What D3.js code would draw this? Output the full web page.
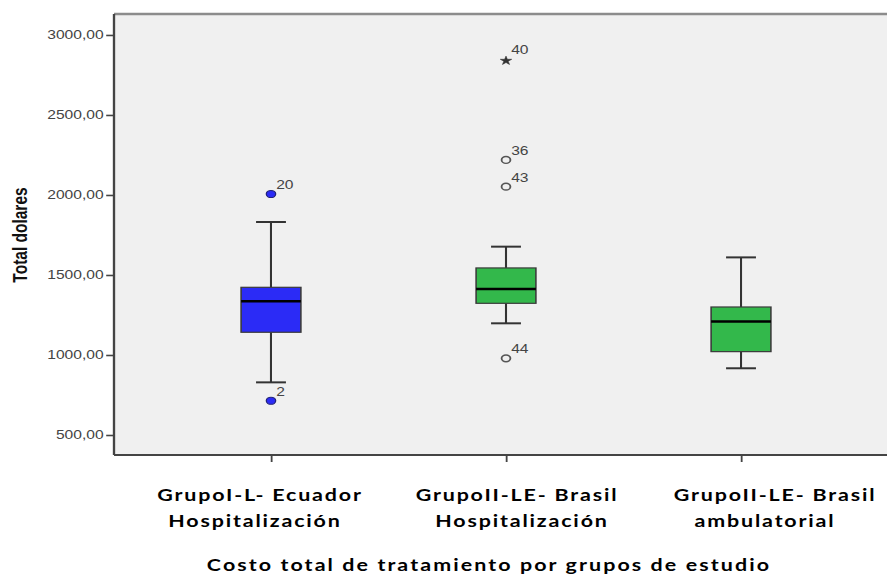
<!DOCTYPE html>
<html>
<head>
<meta charset="utf-8">
<script src="https://cdn.jsdelivr.net/npm/d3@7"></script>
<style>
  html, body { margin: 0; padding: 0; background: #ffffff; }
  svg { display: block; }
</style>
</head>
<body>
<svg id="chart" width="887" height="577"></svg>
<script>
// ---- data ----
const categoryLines = [
  ["GrupoI-L- Ecuador", "Hospitalización"],
  ["GrupoII-LE- Brasil", "Hospitalización"],
  ["GrupoII-LE- Brasil", "ambulatorial"]
];
const whiskerLow  = [829, 1198, 917];
const quartile1   = [1142, 1323, 1021];
const medians     = [1336, 1412, 1210];
const quartile3   = [1423, 1544, 1300];
const whiskerHigh = [1831, 1677, 1610];

const outlierGroup = [0, 0, 1, 1, 1, 1];
const outlierValue = [2006, 714, 2839, 2219, 2052, 979];
const outlierCase  = ["20", "2", "40", "36", "43", "44"];
const outlierKind  = ["dot", "dot", "extreme", "out", "out", "out"];

const yTicks = [500, 1000, 1500, 2000, 2500, 3000];
const boxColors = ["#2b2bf6", "#33b84b", "#33b84b"];

const yTitle = "Total dolares";
const xTitle = "Costo total de tratamiento por grupos de estudio";

// ---- layout ----
// The whole drawing is widened horizontally by SX.
const SX = 1.3;
const plotLeft = 114 / SX, plotRight = 898 / SX;
const plotTop = 14, plotBottom = 455;
const boxHalf = 23, capHalf = 11.5;

const svg = d3.select("#chart");
const g = svg.append("g").attr("transform", `scale(${SX},1)`);

const idx = d3.range(categoryLines.length);
const x = d3.scalePoint().domain(idx).range([plotLeft, plotRight]).padding(0.668);
const y = d3.scaleLinear().domain([375, 3131]).range([plotBottom, plotTop]);

// plot background
g.append("rect")
  .attr("x", plotLeft).attr("y", plotTop)
  .attr("width", plotRight - plotLeft).attr("height", plotBottom - plotTop)
  .attr("fill", "#f0f0f0");
g.append("line")
  .attr("x1", plotLeft).attr("x2", plotRight)
  .attr("y1", plotTop).attr("y2", plotTop)
  .attr("stroke", "#8c8c8c").attr("stroke-width", 2.5);

// y axis
const yAxis = g.append("g")
  .attr("transform", `translate(${plotLeft},0)`)
  .call(d3.axisLeft(y).tickValues(yTicks)
    .tickFormat(d => d3.format(".2f")(d).replace(".", ","))
    .tickSize(6).tickSizeOuter(0));
yAxis.select(".domain").attr("stroke", "#444").attr("stroke-width", 1.8)
  .attr("d", `M0,${plotTop}V${plotBottom}`);
yAxis.selectAll(".tick line").attr("stroke", "#444").attr("stroke-width", 1.6);
yAxis.selectAll(".tick text")
  .attr("x", -8)
  .attr("fill", "#444")
  .style("font-family", "'Liberation Sans', Arial, sans-serif")
  .style("font-size", "12px");

// x axis
const xAxis = g.append("g")
  .attr("transform", `translate(0,${plotBottom})`)
  .call(d3.axisBottom(x).tickFormat("").tickSize(7).tickSizeOuter(0));
xAxis.select(".domain").attr("stroke", "#444").attr("stroke-width", 2)
  .attr("d", `M${plotLeft},0H${plotRight}`);
xAxis.selectAll(".tick line").attr("stroke", "#444").attr("stroke-width", 1.4);

// whiskers
const boxes = g.append("g").selectAll("g").data(idx).join("g");
boxes.append("line")
  .attr("x1", i => x(i)).attr("x2", i => x(i))
  .attr("y1", i => y(whiskerHigh[i])).attr("y2", i => y(quartile3[i]))
  .attr("stroke", "#333").attr("stroke-width", 1.6);
boxes.append("line")
  .attr("x1", i => x(i)).attr("x2", i => x(i))
  .attr("y1", i => y(quartile1[i])).attr("y2", i => y(whiskerLow[i]))
  .attr("stroke", "#333").attr("stroke-width", 1.6);
boxes.append("line")
  .attr("x1", i => x(i) - capHalf).attr("x2", i => x(i) + capHalf)
  .attr("y1", i => y(whiskerHigh[i])).attr("y2", i => y(whiskerHigh[i]))
  .attr("stroke", "#333").attr("stroke-width", 2);
boxes.append("line")
  .attr("x1", i => x(i) - capHalf).attr("x2", i => x(i) + capHalf)
  .attr("y1", i => y(whiskerLow[i])).attr("y2", i => y(whiskerLow[i]))
  .attr("stroke", "#333").attr("stroke-width", 2);

// boxes and medians
boxes.append("rect")
  .attr("x", i => x(i) - boxHalf).attr("width", boxHalf * 2)
  .attr("y", i => y(quartile3[i]))
  .attr("height", i => y(quartile1[i]) - y(quartile3[i]))
  .attr("fill", i => boxColors[i])
  .attr("stroke", "#3a3a3a").attr("stroke-width", 1.2);
boxes.append("line")
  .attr("x1", i => x(i) - boxHalf).attr("x2", i => x(i) + boxHalf)
  .attr("y1", i => y(medians[i])).attr("y2", i => y(medians[i]))
  .attr("stroke", "#000").attr("stroke-width", 2.5);

// outliers
const outs = g.append("g").selectAll("g").data(d3.range(outlierValue.length)).join("g")
  .attr("transform", k => `translate(${x(outlierGroup[k])},${y(outlierValue[k])})`);
outs.filter(k => outlierKind[k] === "dot").append("circle")
  .attr("r", 3.6).attr("fill", boxColors[0]).attr("stroke", "#22227a").attr("stroke-width", 1);
outs.filter(k => outlierKind[k] === "out").append("circle")
  .attr("r", 3.4).attr("fill", "none").attr("stroke", "#555").attr("stroke-width", 1.4);
outs.filter(k => outlierKind[k] === "extreme").append("path")
  .attr("d", d3.symbol().type(d3.symbolStar).size(24))
  .attr("fill", "#333").attr("stroke", "#333").attr("stroke-width", 0.5);
outs.append("text")
  .attr("x", 4).attr("y", k => outlierKind[k] === "extreme" ? -7 : -5)
  .attr("fill", "#444")
  .style("font-family", "'Liberation Sans', Arial, sans-serif")
  .style("font-size", "12px")
  .text(k => outlierCase[k]);

// y axis title
g.append("text")
  .attr("transform", `translate(${20 / SX},235) rotate(-90)`)
  .attr("text-anchor", "middle")
  .attr("dominant-baseline", "central")
  .attr("fill", "#111")
  .style("font-family", "'Liberation Sans', Arial, sans-serif")
  .style("font-weight", "bold")
  .style("font-size", "15.5px")
  .text(yTitle);

// category labels
const labelFont = "Lato, 'Open Sans', sans-serif";
const lineShift = [[-11, -16], [11, 16], [34, 24]];
const lineBase = [501, 527];
idx.forEach(i => {
  categoryLines[i].forEach((line, j) => {
    g.append("text")
      .attr("x", x(i) + lineShift[i][j] / SX)
      .attr("y", lineBase[j])
      .attr("text-anchor", "middle")
      .attr("fill", "#000")
      .style("font-family", labelFont)
      .style("font-weight", "bold")
      .style("font-size", "16.5px")
      .style("letter-spacing", "1.4px")
      .text(line);
  });
});

// x axis title
g.append("text")
  .attr("x", x(1) - 17 / SX)
  .attr("y", 571)
  .attr("text-anchor", "middle")
  .attr("fill", "#000")
  .style("font-family", labelFont)
  .style("font-weight", "bold")
  .style("font-size", "16.5px")
  .style("letter-spacing", "1.6px")
  .text(xTitle);
</script>
</body>
</html>
